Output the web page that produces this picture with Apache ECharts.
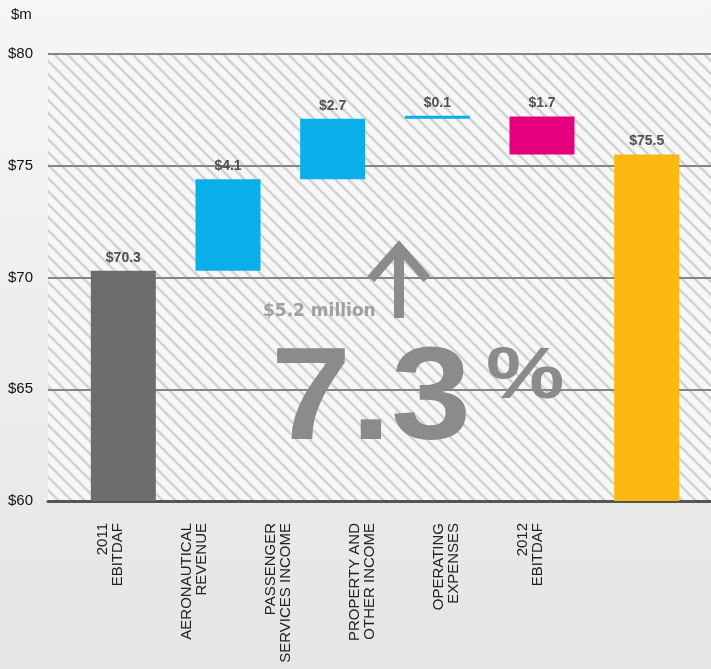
<!DOCTYPE html>
<html><head><meta charset="utf-8">
<script src="https://cdn.jsdelivr.net/npm/echarts@6/dist/echarts.min.js"></script>
<style>html,body{margin:0;padding:0;background:#eee;} #c{width:711px;height:669px;}</style>
</head><body><div id="c"></div>
<script>
// ---- data ----
const categories = ['2011\nEBITDAF', 'AERONAUTICAL\nREVENUE', 'PASSENGER\nSERVICES INCOME', 'PROPERTY AND\nOTHER INCOME', 'OPERATING\nEXPENSES', '2012\nEBITDAF'];
const changes = [70.3, 4.1, 2.7, 0.1, -1.7, 75.5];   // first & last are totals
const valueLabels = ['$70.3', '$4.1', '$2.7', '$0.1', '$1.7', '$75.5'];
const barColors = ['#6d6d6f', '#0aaee8', '#0aaee8', '#0aaee8', '#e5007e', '#fdb813'];
const yMin = 60, yMax = 80, yStep = 5;
const yTickLabels = { 60: '$60', 65: '$65', 70: '$70', 75: '$75', 80: '$80' };
const unitLabel = '$m';
const headline = '7.3';
const headlinePct = '%';
const increaseLabel = '$5.2 million';

// waterfall helper (invisible base) and visible part
const helper = [], visible = [];
let run = 0;
changes.forEach((c, i) => {
  if (i === 0 || i === changes.length - 1) {
    helper.push(yMin); visible.push(+(c - yMin).toFixed(2)); run = c;
  } else {
    const lo = c >= 0 ? run : run + c;
    helper.push(+lo.toFixed(2)); visible.push(Math.abs(c)); run += c;
  }
});

// hatch pattern
const pc = document.createElement('canvas'); pc.width = 13; pc.height = 13;
const g = pc.getContext('2d');
g.fillStyle = '#f7f7f7'; g.fillRect(0, 0, 13, 13);
g.strokeStyle = '#d3d3d3'; g.lineWidth = 2.6;
g.beginPath();
for (let k = -1; k <= 1; k++) { g.moveTo(k * 13 - 2, -2); g.lineTo(k * 13 + 15, 15); }
g.stroke();

const FONT = '"Liberation Sans", Arial, sans-serif';
const chart = echarts.init(document.getElementById('c'));
chart.setOption({
  animation: false,
  backgroundColor: { type: 'linear', x: 0, y: 0, x2: 0, y2: 1, colorStops: [{ offset: 0, color: '#f6f6f6' }, { offset: 1, color: '#e5e5e5' }] },
  grid: [
    { left: 48, right: 0, top: 54, bottom: 168, show: true, borderWidth: 0, backgroundColor: { image: pc, repeat: 'repeat' } },
    { left: 71, right: 12, top: 54, bottom: 168 },
    { left: 68, width: 504, top: 54, bottom: 168 }
  ],
  xAxis: [
    { gridIndex: 0, type: 'value', min: 0, max: 1, axisLine: { show: true, onZero: false, lineStyle: { color: '#555', width: 3 } }, axisTick: { show: false }, axisLabel: { show: false }, splitLine: { show: false } },
    { gridIndex: 1, type: 'category', data: categories, show: false },
    { gridIndex: 2, type: 'category', data: categories, axisLine: { show: false }, axisTick: { show: false },
      axisLabel: { rotate: 90, margin: 22, fontSize: 15, lineHeight: 15, color: '#222', fontFamily: FONT } }
  ],
  yAxis: [
    { gridIndex: 0, type: 'value', min: yMin, max: yMax, interval: yStep, axisLine: { show: false }, axisTick: { show: false },
      splitLine: { lineStyle: { color: '#858585', width: 2 } },
      axisLabel: { formatter: v => yTickLabels[v], align: 'left', margin: 40, fontSize: 15, color: '#111', fontFamily: FONT } },
    { gridIndex: 1, type: 'value', min: yMin, max: yMax, interval: yStep, show: false },
    { gridIndex: 2, type: 'value', min: 0, max: 1, show: false }
  ],
  series: [
    { type: 'bar', xAxisIndex: 1, yAxisIndex: 1, stack: 'w', data: helper, barWidth: 65, itemStyle: { color: 'transparent' }, silent: true },
    { type: 'bar', xAxisIndex: 1, yAxisIndex: 1, stack: 'w', barWidth: 65, barMinHeight: 3,
      data: visible.map((v, i) => ({ value: v, itemStyle: { color: barColors[i] } })),
      label: { show: true, position: 'top', distance: 6, formatter: p => valueLabels[p.dataIndex], fontSize: 14, fontWeight: 'bold', color: '#505050', fontFamily: FONT } }
  ],
  graphic: [
    { type: 'text', left: 11, top: 7, style: { text: unitLabel, font: '15px ' + FONT, fill: '#111' } },
    { type: 'text', z: 100, x: 263, y: 312, style: { text: increaseLabel, font: 'bold 17px "DejaVu Sans", sans-serif', fill: '#a0a0a0', verticalAlign: 'middle' } },
    { type: 'line', z: 100, shape: { x1: 399, y1: 318, x2: 399, y2: 246 }, style: { stroke: '#8b8b8b', lineWidth: 10 } },
    { type: 'polyline', z: 100, shape: { points: [[371, 279], [399, 247], [427, 279]] }, style: { stroke: '#8b8b8b', lineWidth: 9, fill: null, lineJoin: 'miter' } },
    { type: 'text', z: 100, x: 271, y: 403, scaleY: 0.91, style: { text: headline, font: 'bold 144px ' + FONT, fill: '#8b8b8b', verticalAlign: 'middle' } },
    { type: 'text', z: 100, x: 486, y: 378, scaleX: 1.13, scaleY: 0.92, style: { text: headlinePct, font: 'bold 78px ' + FONT, fill: '#8b8b8b', verticalAlign: 'middle' } }
  ]
});
</script></body></html>
